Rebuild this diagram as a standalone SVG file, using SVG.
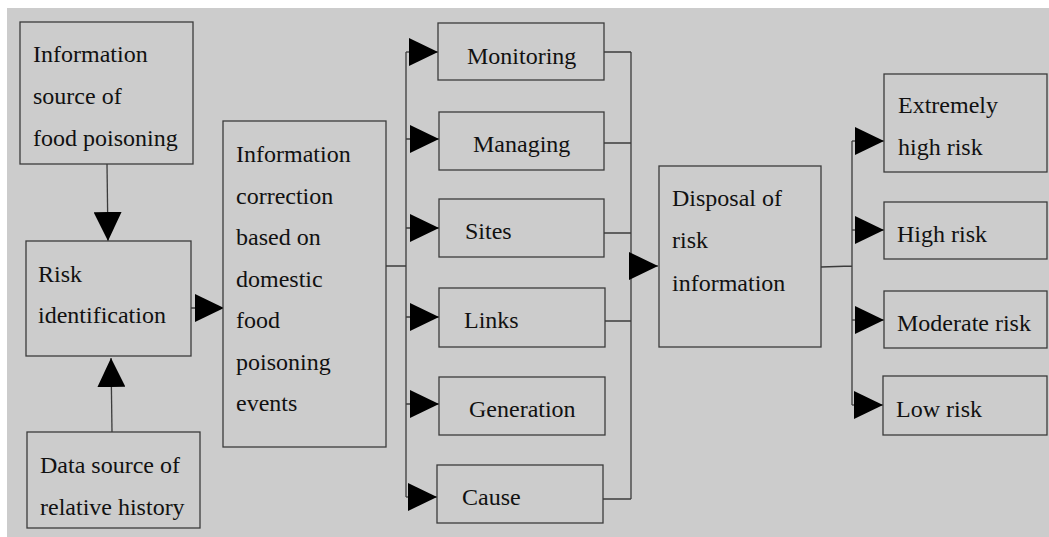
<svg xmlns="http://www.w3.org/2000/svg" width="1049" height="537" viewBox="0 0 1049 537">
<defs>
<style>
.bg{fill:#cccccc}
.box{fill:#cccccc;stroke:#3c3c3c;stroke-width:1.3}
.ln{fill:none;stroke:#3c3c3c;stroke-width:1.3}
.t{font-family:"Liberation Serif","Times New Roman",serif;font-size:24px;fill:#111111}
</style>
<marker id="arr" viewBox="0 0 29 28" markerWidth="29" markerHeight="28" refX="29" refY="14" orient="auto" markerUnits="userSpaceOnUse">
<path d="M0,0 L29,14 L0,28 Z" fill="#000000"/>
</marker>
</defs>
<rect x="0" y="0" width="1049" height="537" fill="#ffffff"/>
<rect class="bg" x="7" y="8" width="1042" height="529"/>

<g id="connectors">
<line class="ln" x1="107" y1="164" x2="108" y2="241" marker-end="url(#arr)"/>
<line class="ln" x1="112" y1="432" x2="111" y2="358" marker-end="url(#arr)"/>
<line class="ln" x1="191" y1="308" x2="224" y2="308" marker-end="url(#arr)"/>
<path class="ln" d="M386,266 L406,266 M406,52 L406,497"/>
<line class="ln" x1="406" y1="52" x2="438" y2="52" marker-end="url(#arr)"/>
<line class="ln" x1="406" y1="139" x2="439" y2="139" marker-end="url(#arr)"/>
<line class="ln" x1="406" y1="228" x2="439" y2="228" marker-end="url(#arr)"/>
<line class="ln" x1="406" y1="317" x2="439" y2="317" marker-end="url(#arr)"/>
<line class="ln" x1="406" y1="404" x2="439" y2="404" marker-end="url(#arr)"/>
<line class="ln" x1="406" y1="497" x2="437" y2="497" marker-end="url(#arr)"/>
<path class="ln" d="M604,52 L631,52 M604,143 L631,143 M604,233 L631,233 M605,321 L631,321 M603,499 L631,499 M631,52 L631,499"/>
<line class="ln" x1="631" y1="266" x2="658" y2="266" marker-end="url(#arr)"/>
<path class="ln" d="M821,267 L852,266 M852,141 L852,405"/>
<line class="ln" x1="852" y1="141" x2="884" y2="141" marker-end="url(#arr)"/>
<line class="ln" x1="852" y1="230" x2="884" y2="230" marker-end="url(#arr)"/>
<line class="ln" x1="852" y1="320" x2="884" y2="320" marker-end="url(#arr)"/>
<line class="ln" x1="852" y1="405" x2="883" y2="405" marker-end="url(#arr)"/>
</g>

<g id="n-info-source">
<rect class="box" x="20" y="22" width="173" height="142"/>
<text class="t" x="33" y="62">Information</text>
<text class="t" x="33" y="104">source of</text>
<text class="t" x="33" y="146">food poisoning</text>
</g>

<g id="n-risk-identification">
<rect class="box" x="26" y="241" width="165" height="115"/>
<text class="t" x="38" y="282">Risk</text>
<text class="t" x="38" y="323">identification</text>
</g>

<g id="n-data-source">
<rect class="box" x="27" y="432" width="173" height="96"/>
<text class="t" x="40" y="473">Data source of</text>
<text class="t" x="40" y="515">relative history</text>
</g>

<g id="n-info-correction">
<rect class="box" x="223" y="121" width="163" height="326"/>
<text class="t" x="236" y="162">Information</text>
<text class="t" x="236" y="203.5">correction</text>
<text class="t" x="236" y="245">based on</text>
<text class="t" x="236" y="286.5">domestic</text>
<text class="t" x="236" y="328">food</text>
<text class="t" x="236" y="369.5">poisoning</text>
<text class="t" x="236" y="411">events</text>
</g>

<g id="n-monitoring">
<rect class="box" x="438" y="23" width="166" height="57"/>
<text class="t" x="467" y="64">Monitoring</text>
</g>
<g id="n-managing">
<rect class="box" x="439" y="112" width="165" height="58"/>
<text class="t" x="473" y="152">Managing</text>
</g>
<g id="n-sites">
<rect class="box" x="439" y="199" width="165" height="58"/>
<text class="t" x="465" y="239">Sites</text>
</g>
<g id="n-links">
<rect class="box" x="439" y="288" width="166" height="59"/>
<text class="t" x="464" y="328">Links</text>
</g>
<g id="n-generation">
<rect class="box" x="439" y="377" width="166" height="58"/>
<text class="t" x="469" y="417">Generation</text>
</g>
<g id="n-cause">
<rect class="box" x="437" y="465" width="166" height="58"/>
<text class="t" x="462" y="505">Cause</text>
</g>

<g id="n-disposal">
<rect class="box" x="659" y="166" width="162" height="181"/>
<text class="t" x="672" y="206">Disposal of</text>
<text class="t" x="672" y="248">risk</text>
<text class="t" x="672" y="291">information</text>
</g>

<g id="n-extremely-high">
<rect class="box" x="884" y="74" width="163" height="98"/>
<text class="t" x="898" y="113">Extremely</text>
<text class="t" x="898" y="155">high risk</text>
</g>
<g id="n-high">
<rect class="box" x="884" y="202" width="163" height="57"/>
<text class="t" x="897" y="242">High risk</text>
</g>
<g id="n-moderate">
<rect class="box" x="884" y="291" width="163" height="57"/>
<text class="t" x="897" y="331">Moderate risk</text>
</g>
<g id="n-low">
<rect class="box" x="883" y="376" width="164" height="59"/>
<text class="t" x="896" y="417">Low risk</text>
</g>
</svg>
